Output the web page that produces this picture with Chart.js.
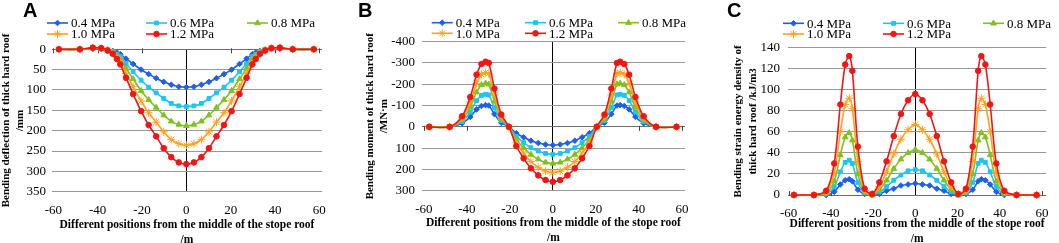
<!DOCTYPE html>
<html>
<head>
<meta charset="utf-8">
<title>Thick hard roof - deflection, moment, strain energy</title>
<script src="https://cdn.jsdelivr.net/npm/chart.js@4.4.1/dist/chart.umd.min.js"></script>
<style>
  html, body { margin: 0; padding: 0; background: #fff; }
  body { width: 1059px; height: 243px; overflow: hidden; position: relative; }
  canvas { position: absolute; top: 0; }
  .letter { position: absolute; top: 0; font: bold 20px "Liberation Sans", Arial, sans-serif; line-height: 20px; color: #000; }
</style>
</head>
<body>
<canvas id="chartA" width="350" height="250" style="left:0"></canvas>
<canvas id="chartB" width="350" height="250" style="left:350px"></canvas>
<canvas id="chartC" width="359" height="250" style="left:700px"></canvas>
<div class="letter" style="left:23px">A</div>
<div class="letter" style="left:358px">B</div>
<div class="letter" style="left:727px">C</div>

<script>
// x positions along the roof (m), shared by every series
const positions = [-57.5, -48, -42.2, -38.4, -35.5, -33.2, -31.3, -29.8, -27.2, -24, -20.4, -17, -13.6, -10.2, -6.8, -3.4, 0,
                   3.4, 6.8, 10.2, 13.6, 17, 20.4, 24, 27.2, 29.8, 31.3, 33.2, 35.5, 38.4, 42.2, 48, 57.5];
const pressures = ['0.4 MPa', '0.6 MPa', '0.8 MPa', '1.0 MPa', '1.2 MPa'];
const xTicks = [-60, -40, -20, 0, 20, 40, 60];

// A - bending deflection (mm)
const deflection04 = [0, 0, -1, -1, 1, 4, 8, 12, 23, 36, 50, 61, 71, 80, 87, 92, 93, 92, 87, 80, 71, 61, 50, 36, 23, 12, 8, 4, 1, -1, -1, 0, 0];
const deflection06 = [0, 0, -2, -1, 1, 6, 12, 18, 35, 55, 76, 93, 107, 121, 133, 139, 141, 139, 133, 121, 107, 93, 76, 55, 35, 18, 12, 6, 1, -1, -2, 0, 0];
const deflection08 = [0, 0, -3, -2, 2, 8, 16, 24, 47, 73, 102, 124, 143, 162, 177, 185, 188, 185, 177, 162, 143, 124, 102, 73, 47, 24, 16, 8, 2, -2, -3, 0, 0];
const deflection10 = [0, 0, -4, -2, 2, 9, 20, 31, 59, 92, 127, 156, 179, 203, 222, 232, 236, 232, 222, 203, 179, 156, 127, 92, 59, 31, 20, 9, 2, -2, -4, 0, 0];
const deflection12 = [0, 0, -4, -3, 3, 11, 24, 37, 70, 110, 152, 186, 214, 243, 265, 278, 282, 278, 265, 243, 214, 186, 152, 110, 70, 37, 24, 11, 3, -3, -4, 0, 0];

// B - bending moment (MN·m)
const moment04 = [0, 0, -17, -47, -82, -98, -102, -100, -60, -19, 0, 30, 49, 65, 76, 83, 86, 83, 76, 65, 49, 30, 0, -19, -60, -100, -102, -98, -82, -47, -17, 0, 0];
const moment06 = [0, 0, -25, -70, -123, -148, -153, -150, -90, -29, 0, 45, 74, 98, 114, 125, 129, 125, 114, 98, 74, 45, 0, -29, -90, -150, -153, -148, -123, -70, -25, 0, 0];
const moment08 = [0, 0, -33, -93, -163, -197, -204, -200, -120, -39, 0, 60, 99, 130, 152, 167, 172, 167, 152, 130, 99, 60, 0, -39, -120, -200, -204, -197, -163, -93, -33, 0, 0];
const moment10 = [0, 0, -42, -117, -204, -246, -255, -250, -150, -48, 0, 75, 123, 163, 190, 208, 215, 208, 190, 163, 123, 75, 0, -48, -150, -250, -255, -246, -204, -117, -42, 0, 0];
const moment12 = [0, 0, -50, -140, -245, -295, -306, -300, -180, -58, 0, 90, 148, 195, 228, 250, 258, 250, 228, 195, 148, 90, 0, -58, -180, -300, -306, -295, -245, -140, -50, 0, 0];

// C - bending strain energy density (kJ/m3)
const energy04 = [0, 0, 0, 3, 10, 14, 15, 13, 5, 1, 0, 1, 4, 6, 9, 10, 11, 10, 9, 6, 4, 1, 0, 1, 5, 13, 15, 14, 10, 3, 0, 0, 0];
const energy06 = [0, 0, 1, 8, 22, 31, 33, 30, 12, 2, 0, 3, 8, 14, 19, 23, 24, 23, 19, 14, 8, 3, 0, 2, 12, 30, 33, 31, 22, 8, 1, 0, 0];
const energy08 = [0, 0, 2, 13, 38, 55, 59, 52, 20, 3, 0, 5, 14, 25, 34, 40, 43, 40, 34, 25, 14, 5, 0, 3, 20, 52, 59, 55, 38, 13, 2, 0, 0];
const energy10 = [0, 0, 3, 21, 60, 86, 92, 82, 32, 4, 1, 8, 22, 39, 53, 62, 67, 62, 53, 39, 22, 8, 1, 4, 32, 82, 92, 86, 60, 21, 3, 0, 0];
const energy12 = [0, 0, 4, 30, 86, 124, 132, 118, 46, 6, 1, 12, 32, 56, 77, 90, 96, 90, 77, 56, 32, 12, 1, 6, 46, 118, 132, 124, 86, 30, 4, 0, 0];

const colors = ['#1f5fe8', '#1ec4f2', '#7fc21e', '#ffa11c', '#f01616'];
const markers = ['rectRot', 'rect', 'triangle', 'star', 'circle'];
const markerSizes = [2.8, 2.7, 3.3, 4, 2.8];

const serif = '"Liberation Serif", "Times New Roman", serif';
Chart.defaults.font.family = serif;
Chart.defaults.color = '#000';

// legend drawn as line + marker + text in a 3 column grid
const panelLegend = {
    id: 'panelLegend',
    afterDraw(chart, args, opts) {
        const ctx = chart.ctx;
        ctx.save();
        ctx.font = '13px ' + serif;
        ctx.textBaseline = 'middle';
        chart.data.datasets.forEach((ds, i) => {
            const x = opts.cols[i % 3];
            const y = opts.rows[Math.floor(i / 3)];
            ctx.strokeStyle = ds.borderColor;
            ctx.fillStyle = ds.backgroundColor;
            ctx.lineWidth = 1.6;
            ctx.beginPath();
            ctx.moveTo(x, y);
            ctx.lineTo(x + 21, y);
            ctx.stroke();
            ctx.lineWidth = 1;
            Chart.helpers.drawPoint(ctx, {pointStyle: ds.pointStyle, radius: ds.pointRadius, borderWidth: 1, rotation: 0}, x + 10.5, y);
            ctx.fillStyle = '#000';
            ctx.fillText(ds.label, x + 24, y + 1);
        });
        ctx.restore();
    }
};

// small tick marks on the zero line
const zeroTicks = {
    id: 'zeroTicks',
    beforeDatasetsDraw(chart) {
        const {ctx, scales: {x, y}} = chart;
        const y0 = y.getPixelForValue(0);
        const dir = Math.sign(y.getPixelForValue(1) - y0);
        ctx.save();
        ctx.strokeStyle = '#444';
        ctx.lineWidth = 1;
        xTicks.forEach(v => {
            if (v === 0) return;
            const px = Math.round(x.getPixelForValue(v)) + 0.5;
            ctx.beginPath();
            ctx.moveTo(px, y0 - dir);
            ctx.lineTo(px, y0 + dir * 4);
            ctx.stroke();
        });
        ctx.restore();
    }
};

function makePanel(id, series, p) {
    const ctx = document.getElementById(id).getContext('2d');
    const W = ctx.canvas.width, H = ctx.canvas.height;
    const yTicks = [];
    for (let v = p.yMin; v <= p.yMax; v += p.yStep) yTicks.push(v);

    return new Chart(ctx, {
        type: 'line',
        data: {
            datasets: series.map((vals, i) => ({
                label: pressures[i],
                data: positions.map((x, k) => ({x: x, y: vals[k]})),
                borderColor: colors[i],
                backgroundColor: colors[i],
                borderWidth: 1.6,
                pointStyle: markers[i],
                pointRadius: markerSizes[i],
                pointBorderWidth: 1,
                tension: 0.3,
                order: 4 - i,
                clip: 10
            }))
        },
        options: {
            responsive: false,
            animation: false,
            events: [],
            layout: {
                padding: {left: 0, right: W - p.area.right, top: p.area.top, bottom: 0}
            },
            plugins: {
                legend: {display: false},
                tooltip: {enabled: false},
                panelLegend: {cols: p.legendCols, rows: p.legendRows}
            },
            scales: {
                x: {
                    type: 'linear',
                    min: p.xMin,
                    max: p.xMax,
                    afterBuildTicks: s => { s.ticks = xTicks.map(v => ({value: v})); },
                    afterFit: s => { s.height = H - p.area.bottom; },
                    border: {display: false},
                    grid: {
                        drawTicks: false,
                        color: c => (c.tick && c.tick.value === 0) ? '#000' : 'rgba(0,0,0,0)',
                        lineWidth: 1
                    },
                    ticks: {font: {size: 13}, padding: p.xTickPad, maxRotation: 0},
                    title: {
                        display: true,
                        text: ['Different positions from the middle of the stope roof', '/m'],
                        font: {size: 11.5, weight: 'bold', lineHeight: '15px'},
                        padding: {top: 0, bottom: p.xTitlePad}
                    }
                },
                y: {
                    type: 'linear',
                    min: p.yMin,
                    max: p.yMax,
                    reverse: p.reverse,
                    afterBuildTicks: s => { s.ticks = yTicks.map(v => ({value: v})); },
                    afterFit: s => { s.width = p.area.left; },
                    border: {display: false},
                    grid: {
                        drawTicks: false,
                        color: c => (c.tick && c.tick.value === 0) ? '#6e6e6e' : '#979797',
                        lineWidth: 1
                    },
                    ticks: {font: {size: 13}, padding: p.yTickPad},
                    title: {
                        display: true,
                        text: p.yTitle,
                        font: {size: 11, weight: 'bold', lineHeight: p.yTitleLh + 'px'},
                        padding: {top: p.yTitlePad, bottom: 0}
                    }
                }
            }
        },
        plugins: [panelLegend, zeroTicks]
    });
}

document.addEventListener('DOMContentLoaded', function() {
    makePanel('chartA', [deflection04, deflection06, deflection08, deflection10, deflection12], {
        area: {left: 52, right: 322, top: 49.3, bottom: 191.7},
        xMin: -60.6, xMax: 61.2,
        yMin: 0, yMax: 350, yStep: 50, reverse: true,
        yTitle: ['Bending deflection of thick hard roof', '/mm'],
        yTitleLh: 14, yTitlePad: -1, yTickPad: 6,
        xTickPad: 11, xTitlePad: 2.5,
        legendCols: [47, 146, 247], legendRows: [23, 34]
    });

    makePanel('chartB', [moment04, moment06, moment08, moment10, moment12], {
        area: {left: 71.7, right: 340, top: 41.7, bottom: 190.7},
        xMin: -61, xMax: 61.5,
        yMin: -400, yMax: 300, yStep: 100, reverse: true,
        yTitle: ['Bending moment of thick hard roof', '/MN\u00b7m'],
        yTitleLh: 13.5, yTitlePad: 13.7, yTickPad: 6.7,
        xTickPad: 11.5, xTitlePad: 4.2,
        legendCols: [81.7, 175, 268], legendRows: [22.7, 33.3]
    });

    makePanel('chartC', [energy04, energy06, energy08, energy10, energy12], {
        area: {left: 88, right: 358.5, top: 47.7, bottom: 195},
        xMin: -60.3, xMax: 62,
        yMin: 0, yMax: 140, yStep: 20, reverse: false,
        yTitle: ['Bending strain energy density of', 'thick hard roof /kJ/m3'],
        yTitleLh: 14.5, yTitlePad: 31, yTickPad: 8,
        xTickPad: 10.5, xTitlePad: 3.2,
        legendCols: [83, 183, 283], legendRows: [23.3, 34]
    });
});
</script>
</body>
</html>
